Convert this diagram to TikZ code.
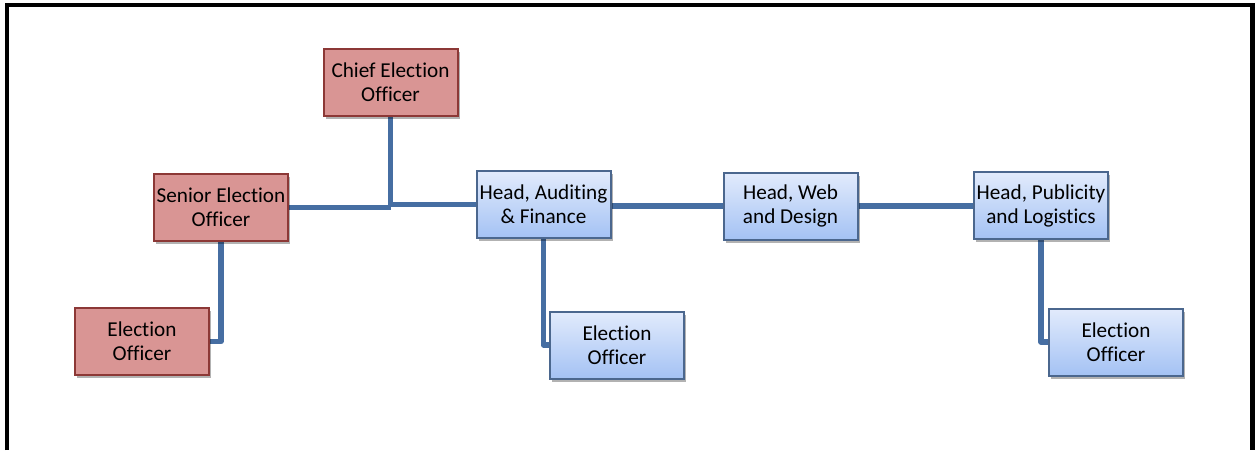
\documentclass[tikz,border=0pt]{standalone}
\usepackage{fontspec}
\setmainfont{Carlito}[Ligatures=NoCommon]
\usetikzlibrary{shadows,backgrounds}
\definecolor{redfill}{RGB}{217,149,148}
\definecolor{redline}{RGB}{140,56,54}
\definecolor{bluetop}{RGB}{226,235,252}
\definecolor{bluebot}{RGB}{164,194,244}
\definecolor{blueline}{RGB}{75,103,142}
\definecolor{conn}{RGB}{70,110,162}
\tikzset{
  box/.style={draw, line width=2pt, minimum width=134pt, minimum height=67pt,
    inner sep=0pt, align=center, font=\fontsize{21.2}{24}\selectfont,
    drop shadow={shadow xshift=2pt, shadow yshift=-3pt, opacity=0.3, fill=black}},
  redbox/.style={box, fill=redfill, draw=redline},
  bluebox/.style={box, top color=bluetop, bottom color=bluebot, draw=blueline},
  connector/.style={draw=conn, line width=5.5pt, line join=round},
  frameline/.style={draw=black, line width=4.5pt, line join=miter}
}
\begin{document}
\begin{tikzpicture}[x=1pt, y=-1pt]
\useasboundingbox (0,0) rectangle (1255,450);
\draw[frameline] (7,450) -- (7,5) -- (1252.5,5) -- (1252.5,450);
\node[redbox] (chief) at (390.5,82.5) {Chief Election\\Officer};
\node[redbox] (senior) at (221,207.5) {Senior Election\\Officer};
\node[redbox] (eo1) at (142,341.5) {Election\\Officer};
\node[bluebox] (aud) at (543.5,204.5) {Head, Auditing\\\& Finance};
\node[bluebox] (web) at (790.5,206) {Head, Web\\and Design};
\node[bluebox] (pub) at (1041,205.5) {Head, Publicity\\and Logistics};
\node[bluebox] (eo2) at (617,345) {Election\\Officer};
\node[bluebox] (eo3) at (1116,342) {Election\\Officer};
\begin{scope}[on background layer]
\draw[connector] (senior.east) -- (senior.east -| chief.south);
\draw[connector] (chief.south) -- (chief.south |- aud.west) -- (aud.west);
\draw[connector] (aud.east |- web.west) -- (web.west);
\draw[connector] (web.east) -- (web.east -| pub.west);
\draw[connector] (senior.south) |- (eo1.east);
\draw[connector] (aud.south) |- (eo2.west);
\draw[connector] (pub.south) |- (eo3.west);
\end{scope}
\end{tikzpicture}
\end{document}
